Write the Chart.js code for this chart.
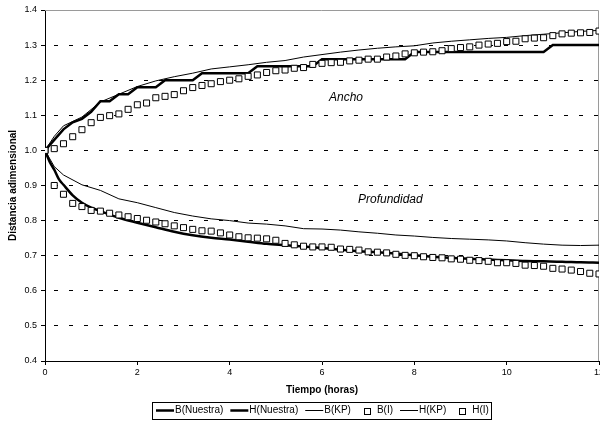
<!DOCTYPE html>
<html>
<head>
<meta charset="utf-8">
<script src="https://cdn.jsdelivr.net/npm/chart.js@4/dist/chart.umd.min.js"></script>
<style>
  html, body { margin: 0; padding: 0; background: #fff; }
  #wrap { width: 600px; height: 426px; }
</style>
</head>
<body>
<div id="wrap"><canvas id="chart" width="600" height="426"></canvas></div>
<script>
// Series names (legend order)
const seriesNames = ['B(Nuestra)', 'H(Nuestra)', 'B(KP)', 'B(I)', 'H(KP)', 'H(I)'];

// Time samples (hours)
const hoursStep = [0, 0.2, 0.4, 0.6, 0.8, 1.0, 1.2, 1.4, 1.6, 1.8, 2.0, 2.2, 2.4, 2.6, 2.8, 3.0,
  3.2, 3.4, 3.6, 3.8, 4.0, 4.2, 4.4, 4.6, 4.8, 5.0, 5.2, 5.4, 5.6, 5.8, 6.0, 6.2, 6.4, 6.6,
  6.8, 7.0, 7.2, 7.4, 7.6, 7.8, 8.0, 8.2, 8.4, 8.6, 8.8, 9.0, 9.2, 9.4, 9.6, 9.8, 10.0,
  10.2, 10.4, 10.6, 10.8, 11.0, 11.2, 11.4, 11.6, 11.8, 12.0];
const hoursH = [0, 0.1, 0.2, 0.3, 0.4, 0.6, 0.8, 1.0, 1.2, 1.6, 2.0, 2.4, 2.8, 3.2, 3.6, 4.0,
  4.4, 4.8, 5.2, 5.6, 6.0, 6.4, 6.8, 7.2, 7.6, 8.0, 8.4, 8.8, 9.2, 9.6, 10.0, 10.4, 10.8,
  11.2, 11.6, 12.0];
const hoursKP = [0, 0.2, 0.4, 0.8, 1.2, 1.6, 2.0, 2.4, 2.8, 3.2, 3.6, 4.0, 4.4, 4.8, 5.2, 5.6,
  6.0, 6.4, 6.8, 7.2, 7.6, 8.0, 8.4, 8.8, 9.2, 9.6, 10.0, 10.4, 10.8, 11.2, 11.6, 12.0];

// Width (B) and depth (H), dimensionless
const bNuestra = [1.00, 1.03, 1.06, 1.08, 1.09, 1.11, 1.14, 1.14, 1.16, 1.16, 1.18, 1.18, 1.18,
  1.20, 1.20, 1.20, 1.20, 1.22, 1.22, 1.22, 1.22, 1.22, 1.22, 1.24, 1.24, 1.24, 1.24, 1.24,
  1.24, 1.24, 1.26, 1.26, 1.26, 1.26, 1.26, 1.26, 1.26, 1.26, 1.26, 1.26, 1.28, 1.28, 1.28,
  1.28, 1.28, 1.28, 1.28, 1.28, 1.28, 1.28, 1.28, 1.28, 1.28, 1.28, 1.28, 1.30, 1.30, 1.30,
  1.30, 1.30, 1.30];
const hNuestra = [1.000, 0.968, 0.945, 0.918, 0.902, 0.872, 0.851, 0.837, 0.827, 0.808, 0.794,
  0.781, 0.768, 0.758, 0.751, 0.746, 0.740, 0.734, 0.730, 0.726, 0.722, 0.717, 0.713, 0.710,
  0.706, 0.701, 0.697, 0.694, 0.691, 0.689, 0.687, 0.685, 0.684, 0.683, 0.681, 0.680];
const bKP = [1.000, 1.040, 1.070, 1.095, 1.138, 1.160, 1.182, 1.198, 1.210, 1.220, 1.232, 1.238,
  1.244, 1.251, 1.256, 1.266, 1.273, 1.280, 1.286, 1.291, 1.295, 1.298, 1.306, 1.311, 1.315,
  1.319, 1.322, 1.327, 1.331, 1.335, 1.339, 1.342];
const hKP = [1.000, 0.954, 0.930, 0.902, 0.886, 0.862, 0.851, 0.837, 0.823, 0.813, 0.805, 0.800,
  0.793, 0.790, 0.785, 0.777, 0.776, 0.773, 0.768, 0.764, 0.759, 0.756, 0.752, 0.749, 0.747,
  0.745, 0.742, 0.737, 0.733, 0.730, 0.729, 0.730];
const bI = [1.000, 1.005, 1.019, 1.039, 1.059, 1.079, 1.094, 1.099, 1.104, 1.117, 1.130, 1.135,
  1.150, 1.154, 1.159, 1.170, 1.179, 1.185, 1.190, 1.196, 1.200, 1.204, 1.211, 1.215, 1.222,
  1.227, 1.229, 1.234, 1.236, 1.245, 1.248, 1.250, 1.251, 1.255, 1.257, 1.260, 1.260, 1.266,
  1.269, 1.275, 1.278, 1.280, 1.281, 1.284, 1.290, 1.293, 1.295, 1.300, 1.303, 1.305, 1.310,
  1.311, 1.318, 1.320, 1.321, 1.327, 1.332, 1.334, 1.335, 1.336, 1.340];
const hI = [1.000, 0.900, 0.875, 0.849, 0.840, 0.829, 0.827, 0.821, 0.816, 0.811, 0.806, 0.801,
  0.796, 0.791, 0.785, 0.780, 0.775, 0.771, 0.770, 0.765, 0.759, 0.754, 0.751, 0.750, 0.748,
  0.744, 0.735, 0.731, 0.727, 0.725, 0.725, 0.724, 0.719, 0.718, 0.716, 0.711, 0.710, 0.708,
  0.704, 0.701, 0.700, 0.697, 0.695, 0.694, 0.691, 0.690, 0.687, 0.686, 0.684, 0.680, 0.680,
  0.678, 0.673, 0.672, 0.670, 0.664, 0.662, 0.659, 0.655, 0.650, 0.648];

// In-plot notes: text with its anchor in data units
const noteTexts = ['Ancho', 'Profundidad'];
const noteHours = [6.52, 7.48];
const noteValues = [1.151, 0.859];

const FONT = '"Liberation Sans", Arial, Helvetica, sans-serif';
Chart.defaults.font.family = FONT;
Chart.defaults.color = '#000';

const pairs = (xs, ys) => xs.map((x, i) => ({ x: x, y: ys[i] }));

function lineSet(label, xs, ys, width, smooth) {
  return {
    label, data: pairs(xs, ys), borderColor: '#000', borderWidth: width,
    pointRadius: 0, fill: false, order: 2,
    tension: smooth ? 0.4 : 0, cubicInterpolationMode: smooth ? 'monotone' : 'default'
  };
}
function squareSet(label, xs, ys) {
  return {
    label, data: pairs(xs, ys), showLine: false, pointStyle: 'rect', pointRadius: 4.25,
    pointBackgroundColor: '#fff', pointBorderColor: '#000', pointBorderWidth: 1,
    borderColor: '#000', order: 1
  };
}

// Boxed legend below the axis title
const framedLegend = {
  id: 'framedLegend',
  afterDraw(chart) {
    const { ctx, chartArea } = chart;
    const sets = chart.data.datasets;
    ctx.save();
    ctx.font = '10px ' + FONT;
    ctx.textBaseline = 'middle';
    ctx.textAlign = 'left';
    const sampleW = 18, spacing = 7, padX = 3, boxH = 17;
    const widths = sets.map(ds => sampleW + 1 + ctx.measureText(ds.label).width);
    const total = widths.reduce((a, b) => a + b, 0) + spacing * (sets.length - 1);
    const cy = chart.height - 15.5;
    let x = Math.round((chartArea.left + chartArea.right) / 2 - total / 2);
    ctx.strokeStyle = '#000';
    ctx.lineWidth = 1;
    ctx.strokeRect(x - padX - 0.5, Math.round(cy - boxH / 2) + 0.5, Math.round(total + 2 * padX), boxH);
    sets.forEach((ds, i) => {
      if (ds.showLine === false) {
        ctx.lineWidth = 1;
        ctx.fillStyle = '#fff';
        const sx = Math.round(x + sampleW / 2 - 3) + 0.5, sy = Math.round(cy - 3) + 0.5;
        ctx.fillRect(sx, sy, 6, 6);
        ctx.strokeRect(sx, sy, 6, 6);
      } else {
        ctx.lineWidth = ds.borderWidth;
        ctx.beginPath();
        ctx.moveTo(x, cy);
        ctx.lineTo(x + sampleW, cy);
        ctx.stroke();
      }
      ctx.fillStyle = '#000';
      ctx.fillText(ds.label, x + sampleW + 1, cy);
      x += widths[i] + spacing;
    });
    ctx.restore();
  }
};

// Grey frame on the top and right of the plot area
const plotFrame = {
  id: 'plotFrame',
  beforeDatasetsDraw(chart) {
    const { ctx, chartArea: a } = chart;
    ctx.save();
    ctx.strokeStyle = '#9a9a9a';
    ctx.lineWidth = 1;
    ctx.beginPath();
    ctx.moveTo(a.left, a.top + 0.5);
    ctx.lineTo(a.right - 0.5, a.top + 0.5);
    ctx.lineTo(a.right - 0.5, a.bottom);
    ctx.stroke();
    ctx.restore();
  }
};

// Italic notes inside the plot
const plotNotes = {
  id: 'plotNotes',
  afterDatasetsDraw(chart) {
    const { ctx, scales: { x, y } } = chart;
    ctx.save();
    ctx.font = 'italic 12px ' + FONT;
    ctx.fillStyle = '#000';
    ctx.textAlign = 'center';
    ctx.textBaseline = 'middle';
    noteTexts.forEach((t, i) => {
      ctx.fillText(t, x.getPixelForValue(noteHours[i]), y.getPixelForValue(noteValues[i]));
    });
    ctx.restore();
  }
};

// The last hour label is allowed to run past the right edge of the canvas
const noSidePadding = () => ({ left: 0, top: 0, right: 0, bottom: 0 });

new Chart(document.getElementById('chart'), {
  type: 'line',
  data: {
    datasets: [
      lineSet(seriesNames[0], hoursStep, bNuestra, 2.5, false),
      lineSet(seriesNames[1], hoursH, hNuestra, 2.5, true),
      lineSet(seriesNames[2], hoursKP, bKP, 1, false),
      squareSet(seriesNames[3], hoursStep, bI),
      lineSet(seriesNames[4], hoursKP, hKP, 1, false),
      squareSet(seriesNames[5], hoursStep, hI)
    ]
  },
  options: {
    responsive: false,
    animation: false,
    events: [],
    layout: { autoPadding: false, padding: { top: 10, right: 1, bottom: 27, left: 0 } },
    plugins: { legend: { display: false }, tooltip: { enabled: false } },
    scales: {
      x: {
        type: 'linear', min: 0, max: 12,
        ticks: { stepSize: 2, font: { size: 9 }, padding: 2, maxRotation: 0, autoSkip: false },
        grid: { drawOnChartArea: false, drawTicks: true, tickLength: 4, color: '#000' },
        border: { display: true, color: '#000', width: 1 },
        title: { display: true, text: 'Tiempo (horas)', font: { size: 10, weight: 'bold' },
                 padding: { top: 0, bottom: 3 } },
        afterFit(s) {
          s.height = 38;
          s.paddingRight = 0;
          s.paddingLeft = 0;
          s.getPadding = noSidePadding;
        }
      },
      y: {
        type: 'linear', min: 0.4, max: 1.4,
        ticks: { stepSize: 0.1, font: { size: 9 }, padding: 4,
                 callback: v => Number(v).toFixed(1) },
        grid: { drawOnChartArea: true, drawTicks: true, tickLength: 4, color: '#000',
                tickColor: '#000' },
        border: { display: true, color: '#000', width: 1, dash: [4, 11], dashOffset: 7 },
        title: { display: true, text: 'Distancia adimensional', font: { size: 10, weight: 'bold' },
                 padding: { top: 7, bottom: 0 } },
        afterFit(s) { s.width = 45; }
      }
    }
  },
  plugins: [plotFrame, plotNotes, framedLegend]
});
</script>
</body>
</html>
